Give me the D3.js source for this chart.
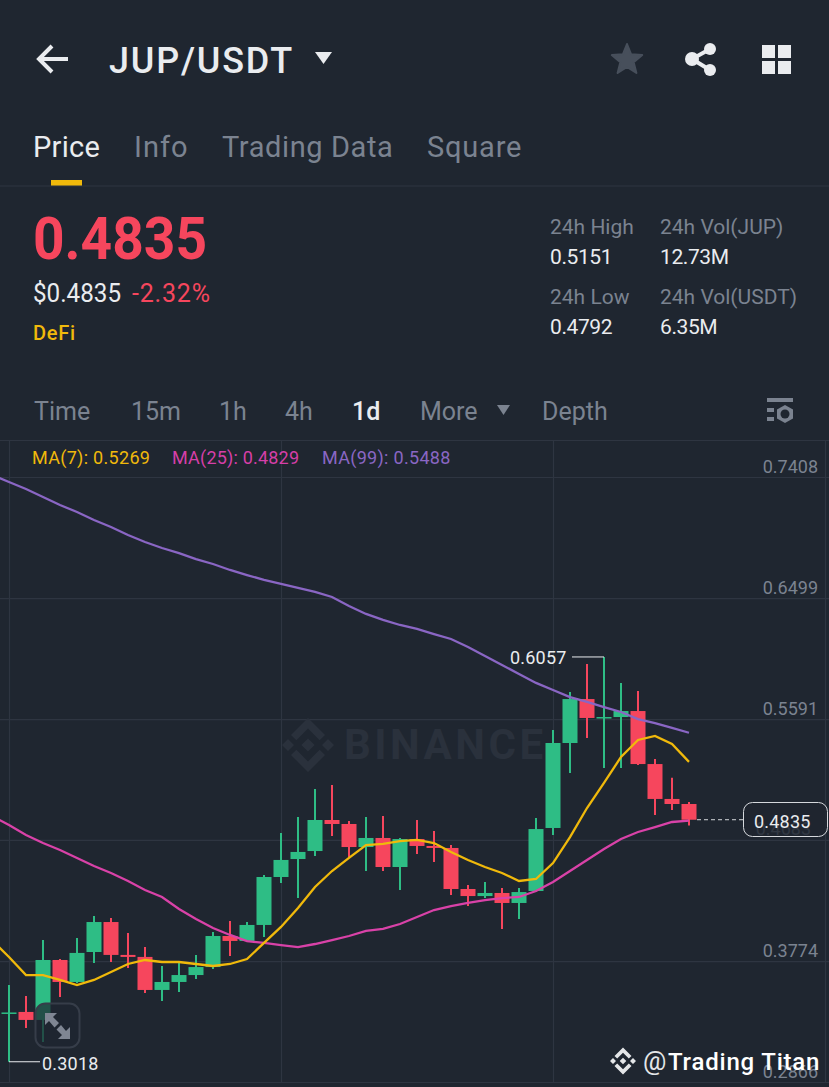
<!DOCTYPE html>
<html>
<head>
<meta charset="utf-8">
<script src="https://cdn.jsdelivr.net/npm/d3@7"></script>
<style>
  html, body { margin: 0; padding: 0; background: #1f2630; }
  svg { display: block; font-family: Roboto, sans-serif; }
</style>
</head>
<body>
<svg id="canvas"></svg>
<script>
// candles, oldest first
let opens  = [.3380,.3392,.3332,.3782,.3617,.3842,.4067,.3820,.3805,.3557,.3617,.3669,.3729,.3962,.3925,.4045,.4405,.4540,.4600,.4833,.4803,.4630,.4698,.4480,.4690,.4638,.4623,.4315,.4262,.4285,.4210,.4300,.4773,.5411,.5741,.5599,.5606,.5651,.5253,.4991,.4953];
let highs  = [.3594,.3512,.3932,.3790,.3947,.4112,.4097,.3985,.3880,.3737,.3759,.3820,.3992,.4075,.4067,.4420,.4735,.4855,.5066,.5096,.4825,.4855,.4863,.4698,.4833,.4750,.4645,.4345,.4367,.4322,.4322,.4848,.5508,.5794,.6004,.6057,.5861,.5801,.5291,.5151,.4968];
let lows   = [.3018,.3271,.3166,.3504,.3609,.3759,.3767,.3722,.3534,.3474,.3542,.3639,.3714,.3812,.3917,.3955,.4360,.4247,.4563,.4713,.4555,.4450,.4450,.4308,.4578,.4518,.4270,.4187,.4247,.4015,.4090,.4295,.4720,.5186,.5449,.5223,.5223,.5246,.4870,.4908,.4792];
let closes = [.3388,.3332,.3782,.3617,.3835,.4067,.3820,.3805,.3557,.3617,.3669,.3729,.3962,.3925,.4045,.4405,.4533,.4593,.4833,.4803,.4630,.4698,.4480,.4690,.4638,.4623,.4315,.4262,.4285,.4210,.4292,.4765,.5411,.5741,.5599,.5606,.5651,.5253,.4991,.4953,.4835];

// moving averages start one day before the first whole candle on screen
let ma7  = [.3932,.3804,.3669,.3669,.3632,.3594,.3632,.3692,.3752,.3782,.3767,.3767,.3752,.3737,.3752,.3789,.3910,.4030,.4172,.4330,.4450,.4548,.4645,.4653,.4675,.4683,.4660,.4593,.4533,.4480,.4435,.4375,.4390,.4510,.4705,.4923,.5111,.5306,.5434,.5464,.5403,.5269];
let ma25 = [.4863,.4795,.4720,.4660,.4608,.4548,.4488,.4435,.4375,.4307,.4255,.4165,.4090,.4022,.3970,.3924,.3910,.3894,.3879,.3902,.3932,.3962,.4000,.4015,.4052,.4105,.4157,.4187,.4210,.4232,.4247,.4255,.4300,.4367,.4450,.4533,.4615,.4690,.4743,.4780,.4818,.4829];
let ma99 = [.7423,.7370,.7318,.7258,.7198,.7145,.7085,.7033,.6973,.6920,.6875,.6837,.6792,.6755,.6710,.6672,.6635,.6605,.6575,.6545,.6507,.6440,.6380,.6335,.6297,.6267,.6229,.6192,.6132,.6064,.5997,.5929,.5862,.5809,.5756,.5719,.5681,.5644,.5591,.5561,.5524,.5488];

let priceTicks = [.7408,.6499,.5591,.4683,.3774,.2866];
let dayTicks = [0,16,32,48];

let tabs = ["Price","Info","Trading Data","Square"];
let intervals = ["Time","15m","1h","4h","1d","More","Depth"];

let lastPrice = .4835;
let highLabel = .6057;
let lowLabel = .3018;

let width = 829;
let height = 1087;

const BG = '#1f2630';
const GRID = '#2e3541';
const UP = '#2ebd85';
const DOWN = '#f6465d';
const GREY = '#7b8390';
const YELLOW = '#f0b90b';

let canvas = d3.select('#canvas').attr('width', width).attr('height', height);

let xScale = d3.scaleLinear().domain([0, 40]).range([9, 689]);
let yScale = d3.scaleLinear().domain([.7408, .2866]).range([477, 1082]);

let addText = (x, y, str, size, fill, extra) => {
    let t = canvas.append('text').attr('x', x).attr('y', y).text(str)
        .attr('font-size', size).attr('fill', fill);
    if (extra) extra(t);
    return t;
};

// header
let drawHeader = () => {
    canvas.append('path').attr('d', 'M68 59H40M52 46L39 59L52 72')
        .attr('fill', 'none').attr('stroke', '#eaecef').attr('stroke-width', 4);
    addText(109, 73, 'JUP/USDT', 36, '#eaecef', t => t.attr('font-weight', 500).attr('letter-spacing', 1.800));
    canvas.append('path').attr('d', 'M315 52H332L323.500 64Z').attr('fill', '#eaecef');

    // star
    let star = d3.range(10).map(i => {
        let r = i % 2 ? 7 : 16, a = -Math.PI / 2 + i * Math.PI / 5;
        return [627 + r * Math.cos(a), 60 + r * Math.sin(a)];
    });
    canvas.append('path').attr('d', d3.line()(star) + 'Z').attr('fill', '#474f5b')
        .attr('stroke', '#474f5b').attr('stroke-width', 2).attr('stroke-linejoin', 'round');

    // share
    canvas.append('path').attr('d', 'M710 49L692 59L710 70').attr('fill', 'none')
        .attr('stroke', '#eaecef').attr('stroke-width', 4);
    [[710, 49, 6], [692, 59, 7], [710, 70, 6]].forEach(c => {
        canvas.append('circle').attr('cx', c[0]).attr('cy', c[1]).attr('r', c[2]).attr('fill', '#eaecef');
    });

    // grid icon
    [[762, 45], [778, 45], [762, 61], [778, 61]].forEach(p => {
        canvas.append('rect').attr('x', p[0]).attr('y', p[1]).attr('width', 13).attr('height', 13).attr('fill', '#eaecef');
    });

    let tabX = [33, 134, 222, 427];
    let tabSpacing = [.3, 1, .6, .8];
    tabs.forEach((d, i) => {
        addText(tabX[i], 157, d, 29, i === 0 ? '#eaecef' : GREY, t => t.attr('letter-spacing', tabSpacing[i]));
    });
    canvas.append('rect').attr('x', 51).attr('y', 180).attr('width', 31).attr('height', 6).attr('fill', YELLOW);
    canvas.append('line').attr('x1', 0).attr('x2', width).attr('y1', 186).attr('y2', 186).attr('stroke', GRID);

    addText(33, 259, lastPrice.toFixed(4), 59, DOWN, t => t.attr('font-weight', 700)
        .attr('textLength', 174).attr('lengthAdjust', 'spacingAndGlyphs'));
    addText(33, 302, '$' + lastPrice.toFixed(4), 25, '#eaecef', t => t.attr('textLength', 88).attr('lengthAdjust', 'spacingAndGlyphs'));
    addText(132, 302, '-2.32%', 25, DOWN, t => t.attr('letter-spacing', .8));
    addText(33, 340, 'DeFi', 20, YELLOW, t => t.attr('font-weight', 500).attr('letter-spacing', .7));

    addText(550, 234, '24h High', 21, GREY);
    addText(550, 264, '0.5151', 21, '#eaecef', t => t.attr('letter-spacing', -.4));
    addText(550, 304, '24h Low', 21, GREY);
    addText(550, 334, '0.4792', 21, '#eaecef', t => t.attr('letter-spacing', -.4));
    addText(660, 234, '24h Vol(JUP)', 21, GREY);
    addText(660, 264, '12.73M', 21, '#eaecef', t => t.attr('letter-spacing', -.4));
    addText(660, 304, '24h Vol(USDT)', 21, GREY);
    addText(660, 334, '6.35M', 21, '#eaecef', t => t.attr('letter-spacing', -.4));

    let intervalX = [34, 131, 219, 285, 352, 420, 542];
    intervals.forEach((d, i) => {
        addText(intervalX[i], 420, d, 25, i === 4 ? '#eaecef' : GREY, t => t.attr('font-weight', i === 4 ? 500 : 400));
    });
    canvas.append('path').attr('d', 'M497 405H510L503.500 415Z').attr('fill', GREY);

    // chart settings icon
    canvas.append('rect').attr('x', 767).attr('y', 398).attr('width', 26).attr('height', 4).attr('fill', GREY);
    canvas.append('rect').attr('x', 767).attr('y', 408).attr('width', 7).attr('height', 4).attr('fill', GREY);
    canvas.append('rect').attr('x', 767).attr('y', 417).attr('width', 7).attr('height', 4).attr('fill', GREY);
    canvas.append('path').attr('d', 'M785 405L793 409.500V418.500L785 423L777 418.500V409.500Z').attr('fill', GREY);
    canvas.append('circle').attr('cx', 785).attr('cy', 414).attr('r', 4.500).attr('fill', BG);

    canvas.append('line').attr('x1', 0).attr('x2', width).attr('y1', 440.500).attr('y2', 440.500).attr('stroke', GRID);
};

let drawAxes = () => {
    let yAxis = d3.axisRight(yScale).tickValues(priceTicks).tickFormat(d3.format('.4f')).tickSize(width);
    let yG = canvas.append('g').attr('id', 'y-axis').call(yAxis);
    yG.select('.domain').remove();
    yG.selectAll('line').attr('stroke', GRID).attr('stroke-width', 1.200);
    // the label behind the price box sits a little further left
    yG.selectAll('text').attr('x', d => d === .4683 ? 811 : 818).attr('dy', -5).attr('text-anchor', 'end')
        .attr('fill', GREY).attr('font-size', 18).attr('font-family', 'Roboto, sans-serif');

    let xAxis = d3.axisBottom(xScale).tickValues(dayTicks).tickFormat('').tickSize(1082 - 441);
    let xG = canvas.append('g').attr('id', 'x-axis').attr('transform', 'translate(0, 441)').call(xAxis);
    xG.select('.domain').remove();
    xG.selectAll('line').attr('stroke', GRID).attr('stroke-width', 1.200);
};

// logo used twice: chart centre and credit line
let drawLogo = (cx, cy, s, fill) => {
    let diamond = (x, y, r) => 'M' + (cx + x * s) + ' ' + (cy + (y - r) * s) + 'L' + (cx + (x + r) * s) + ' ' + (cy + y * s)
        + 'L' + (cx + x * s) + ' ' + (cy + (y + r) * s) + 'L' + (cx + (x - r) * s) + ' ' + (cy + y * s) + 'Z';
    canvas.append('path').attr('fill', fill)
        .attr('d', diamond(0, 0, 3.300) + diamond(-10, 0, 3) + diamond(10, 0, 3)
            + 'M' + cx + ' ' + (cy - 13.500 * s) + 'L' + (cx + 8.500 * s) + ' ' + (cy - 5 * s) + 'L' + (cx + 5.800 * s) + ' ' + (cy - 2.400 * s)
            + 'L' + cx + ' ' + (cy - 8.200 * s) + 'L' + (cx - 5.800 * s) + ' ' + (cy - 2.400 * s) + 'L' + (cx - 8.500 * s) + ' ' + (cy - 5 * s) + 'Z'
            + 'M' + cx + ' ' + (cy + 13.500 * s) + 'L' + (cx + 8.500 * s) + ' ' + (cy + 5 * s) + 'L' + (cx + 5.800 * s) + ' ' + (cy + 2.400 * s)
            + 'L' + cx + ' ' + (cy + 8.200 * s) + 'L' + (cx - 5.800 * s) + ' ' + (cy + 2.400 * s) + 'L' + (cx - 8.500 * s) + ' ' + (cy + 5 * s) + 'Z');
};

let drawWatermark = () => {
    drawLogo(308, 745, 2, '#2a313c');
    addText(344, 759, 'BINANCE', 42, '#2a313c', t => t.attr('font-weight', 700).attr('letter-spacing', 3.500));
};

let drawLegend = () => {
    addText(32, 464, 'MA(7): 0.5269', 18, YELLOW, t => t.attr('letter-spacing', .3));
    addText(172, 464, 'MA(25): 0.4829', 18, '#d63fa8', t => t.attr('letter-spacing', .2));
    addText(322, 464, 'MA(99): 0.5488', 18, '#8a66c4', t => t.attr('letter-spacing', .3));
};

let drawCandles = () => {
    let idx = d3.range(opens.length);
    let colour = i => closes[i] >= opens[i] ? UP : DOWN;

    canvas.append('g').selectAll('line').data(idx).enter().append('line')
        .attr('x1', i => xScale(i)).attr('x2', i => xScale(i))
        .attr('y1', i => yScale(highs[i])).attr('y2', i => yScale(lows[i]))
        .attr('stroke', colour).attr('stroke-width', 2);

    canvas.append('g').selectAll('rect').data(idx).enter().append('rect')
        .attr('x', i => xScale(i) - 7.500)
        .attr('y', i => yScale(Math.max(opens[i], closes[i])))
        .attr('width', 15)
        .attr('height', i => Math.max(1.500, Math.abs(yScale(opens[i]) - yScale(closes[i]))))
        .attr('fill', colour);
};

let drawLines = () => {
    let line = d3.line().x((d, i) => xScale(i - 1)).y(d => yScale(d));
    [[ma99, '#8a66c4'], [ma25, '#d942a8'], [ma7, YELLOW]].forEach(s => {
        canvas.append('path').attr('d', line(s[0])).attr('fill', 'none')
            .attr('stroke', s[1]).attr('stroke-width', 2.300);
    });
};

let drawLabels = () => {
    // highest / lowest markers
    let hy = yScale(highLabel), ly = yScale(lowLabel);
    canvas.append('line').attr('x1', 572).attr('x2', xScale(35)).attr('y1', hy).attr('y2', hy).attr('stroke', '#eaecef');
    addText(510, hy + 7, highLabel.toFixed(4), 18, '#eaecef', t => t.attr('letter-spacing', .2));
    canvas.append('line').attr('x1', xScale(0)).attr('x2', 40).attr('y1', ly).attr('y2', ly).attr('stroke', '#eaecef');
    addText(42, ly + 8, lowLabel.toFixed(4), 18, '#eaecef', t => t.attr('letter-spacing', .2));

    // current price
    let py = yScale(lastPrice);
    canvas.append('line').attr('x1', 697).attr('x2', 743).attr('y1', py).attr('y2', py)
        .attr('stroke', '#d5d8dc').attr('stroke-dasharray', '4 3');
    canvas.append('rect').attr('x', 743.500).attr('y', 802.500).attr('width', 84).attr('height', 34).attr('rx', 9)
        .attr('fill', BG).attr('fill-opacity', .8).attr('stroke', '#d5d8dc');
    addText(754, py + 8, lastPrice.toFixed(4), 18, '#eaecef', t => t.attr('letter-spacing', .2));

    // expand button
    canvas.append('rect').attr('x', 35.500).attr('y', 1003.500).attr('width', 44).attr('height', 44).attr('rx', 10)
        .attr('fill', '#1f2630').attr('fill-opacity', .72).attr('stroke', '#363d49').attr('stroke-width', 2);
    canvas.append('path').attr('d', 'M45 1013H57L53 1017L59 1023L54.500 1027.500L49 1021L45 1025Z M70 1039H58L62 1035L56.500 1029.500L61 1025L66 1031L70 1027Z')
        .attr('fill', '#7f8693');

    // credit
    drawLogo(623, 1061, 1, '#e4e6e8');
    addText(643, 1070, '@', 26, '#e4e6e8');
    addText(668, 1070, 'Trading Titan', 24, '#ffffff', t => t.attr('font-weight', 500).attr('letter-spacing', .8));
};

drawHeader();
drawAxes();
drawWatermark();
drawLegend();
drawCandles();
drawLines();
drawLabels();
</script>
</body>
</html>
